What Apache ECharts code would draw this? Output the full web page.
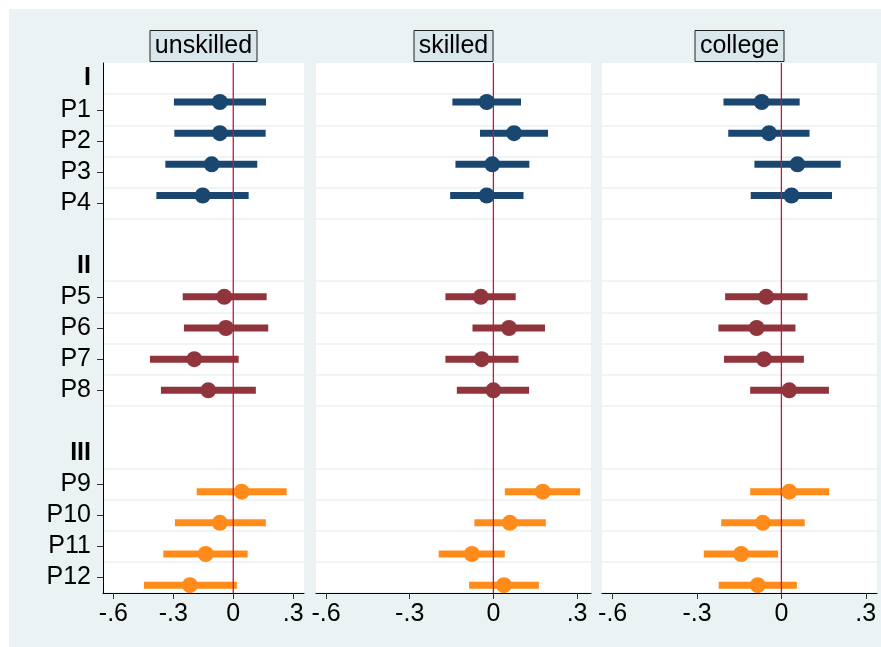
<!DOCTYPE html>
<html><head><meta charset="utf-8">
<script src="https://cdn.jsdelivr.net/npm/echarts@6/dist/echarts.min.js"></script>
<style>html,body{margin:0;padding:0;background:#fff}#c{width:881px;height:647px}</style>
</head><body><div id="c"></div>
<script>
// ---- data ----
const panelTitles = ['unskilled', 'skilled', 'college'];
const groupNames = ['I', 'II', 'III'];
const groupItems = [['P1','P2','P3','P4'], ['P5','P6','P7','P8'], ['P9','P10','P11','P12']];
const items = ['P1','P2','P3','P4','P5','P6','P7','P8','P9','P10','P11','P12'];

const unskilledEst = [-0.067,-0.067,-0.108,-0.153,-0.045,-0.037,-0.195,-0.125,0.042,-0.067,-0.138,-0.217];
const unskilledLo  = [-0.297,-0.295,-0.340,-0.385,-0.253,-0.247,-0.417,-0.362,-0.183,-0.292,-0.350,-0.447];
const unskilledHi  = [0.164,0.162,0.120,0.077,0.167,0.175,0.027,0.113,0.267,0.163,0.072,0.018];

const skilledEst = [-0.024,0.074,-0.004,-0.024,-0.045,0.056,-0.042,0.000,0.177,0.059,-0.077,0.038];
const skilledLo  = [-0.147,-0.048,-0.136,-0.155,-0.172,-0.075,-0.172,-0.131,0.041,-0.068,-0.196,-0.087];
const skilledHi  = [0.099,0.196,0.129,0.108,0.080,0.185,0.090,0.128,0.311,0.188,0.041,0.163];

const collegeEst = [-0.070,-0.044,0.057,0.036,-0.054,-0.088,-0.062,0.028,0.028,-0.066,-0.143,-0.084];
const collegeLo  = [-0.206,-0.189,-0.096,-0.109,-0.200,-0.224,-0.204,-0.111,-0.111,-0.214,-0.276,-0.223];
const collegeHi  = [0.065,0.100,0.211,0.180,0.093,0.050,0.080,0.169,0.170,0.083,-0.012,0.055];

const xTicks = [-0.6, -0.3, 0, 0.3];
const xTickLabels = ['-.6', '-.3', '0', '.3'];
const refValue = 0;

// ---- styles / layout ----
const panelData = [
  [unskilledEst, unskilledLo, unskilledHi],
  [skilledEst, skilledLo, skilledHi],
  [collegeEst, collegeLo, collegeHi]
];
const groupColors = ['#1a476f', '#90353b', '#ff8c1a'];
const groupOffsets = [-0.25, 0, 0.25];
const grids = [
  {left: 103, width: 201, min: -0.652, max: 0.354},
  {left: 316, width: 275, min: -0.636, max: 0.350},
  {left: 602, width: 275, min: -0.638, max: 0.340}
];
const gridTop = 63, gridHeight = 530;
const FONT = 'Liberation Sans';
const BG = '#eaf2f3';

// rows of the category axis built from group structure
const rows = [];
groupNames.forEach((g, gi) => {
  rows.push(g);
  groupItems[gi].forEach(it => rows.push(it));
  if (gi < groupNames.length - 1) rows.push(' '.repeat(gi + 1));
});
const isHeading = v => groupNames.includes(v);
const isItem = v => /^P\d+$/.test(v);

const option = {
  animation: false,
  backgroundColor: '#fff',
  textStyle: {fontFamily: FONT},
  graphic: [{
    type: 'rect', left: 9, top: 9, z: -10,
    shape: {width: 872, height: 638},
    style: {fill: BG}
  }],
  title: panelTitles.map((t, k) => ({
    text: t,
    left: grids[k].left + grids[k].width / 2 - 5,
    top: 30,
    textAlign: 'center',
    padding: [3, 5, 3, 5],
    backgroundColor: '#d9e6eb',
    borderColor: '#222',
    borderWidth: 1,
    textStyle: {fontSize: 25, fontWeight: 'normal', color: '#000', fontFamily: FONT, lineHeight: 26}
  })),
  grid: grids.map(g => ({
    left: g.left, width: g.width, top: gridTop, height: gridHeight,
    show: true, backgroundColor: '#fff', borderWidth: 0, containLabel: false
  })),
  xAxis: grids.map((g, k) => ({
    type: 'value', gridIndex: k, min: g.min, max: g.max, position: 'bottom',
    axisLine: {show: true, onZero: false, lineStyle: {color: '#000', width: 1}},
    axisTick: {show: true, customValues: xTicks, length: 6, lineStyle: {color: '#333', width: 1}},
    axisLabel: {
      show: true, customValues: xTicks, margin: 9, fontSize: 25, color: '#000', fontFamily: FONT,
      formatter: v => {
        const i = xTicks.findIndex(t => Math.abs(t - v) < 1e-9);
        return i >= 0 ? xTickLabels[i] : '';
      }
    },
    splitLine: {show: false}
  })),
  yAxis: [],
  series: []
};

grids.forEach((g, k) => {
  option.yAxis.push({
    type: 'category', gridIndex: k, data: rows, inverse: true, boundaryGap: true, position: 'left',
    axisLine: {show: k === 0, onZero: false, lineStyle: {color: '#000', width: 1}},
    axisTick: {show: k === 0, alignWithLabel: true, length: 6, interval: (i, v) => isItem(v),
               lineStyle: {color: '#333', width: 1}},
    axisLabel: {
      show: k === 0, interval: 0, margin: 12, fontSize: 25, color: '#000', fontFamily: FONT,
      formatter: v => isHeading(v) ? '{h|' + v + '}' : v,
      rich: {h: {fontSize: 25, fontWeight: 'bold', color: '#000', fontFamily: FONT}}
    },
    splitLine: {show: true, interval: (i, v) => !isHeading(v), lineStyle: {color: BG, width: 1.5}}
  });
  option.yAxis.push({
    type: 'value', gridIndex: k, min: -0.5, max: rows.length - 0.5, inverse: true, show: false,
    axisLine: {onZero: false},
    splitLine: {show: false}
  });
  const yIdx = 2 * k + 1;
  const [est, lo, hi] = panelData[k];
  groupItems.forEach((grp, gi) => {
    const bars = [], pts = [];
    grp.forEach(it => {
      const j = items.indexOf(it);
      const y = rows.indexOf(it) + groupOffsets[gi];
      bars.push([lo[j], hi[j], y]);
      pts.push([est[j], y]);
    });
    const color = groupColors[gi];
    option.series.push({
      type: 'custom', xAxisIndex: k, yAxisIndex: yIdx, z: 2, silent: true,
      data: bars, encode: {x: [0, 1], y: 2},
      renderItem: (params, api) => {
        const p0 = api.coord([api.value(0), api.value(2)]);
        const p1 = api.coord([api.value(1), api.value(2)]);
        return {type: 'line', shape: {x1: p0[0], y1: p0[1], x2: p1[0], y2: p1[1]},
                style: {stroke: color, lineWidth: 7, lineCap: 'butt'}};
      }
    });
    option.series.push({
      type: 'scatter', xAxisIndex: k, yAxisIndex: yIdx, z: 4, silent: true,
      data: pts, symbol: 'circle', symbolSize: 16,
      itemStyle: {color: color, opacity: 1}
    });
  });
  option.series.push({
    type: 'custom', xAxisIndex: k, yAxisIndex: yIdx, z: 3, silent: true,
    data: [[refValue, 0]], encode: {x: 0, y: 1},
    renderItem: (params, api) => {
      const cs = params.coordSys;
      const x = api.coord([api.value(0), 0])[0];
      return {type: 'line', shape: {x1: x, y1: cs.y, x2: x, y2: cs.y + cs.height},
              style: {stroke: '#c8173f', lineWidth: 1.3}};
    }
  });
});

const chart = echarts.init(document.getElementById('c'), null, {renderer: 'canvas'});
chart.setOption(option);
</script>
</body></html>
